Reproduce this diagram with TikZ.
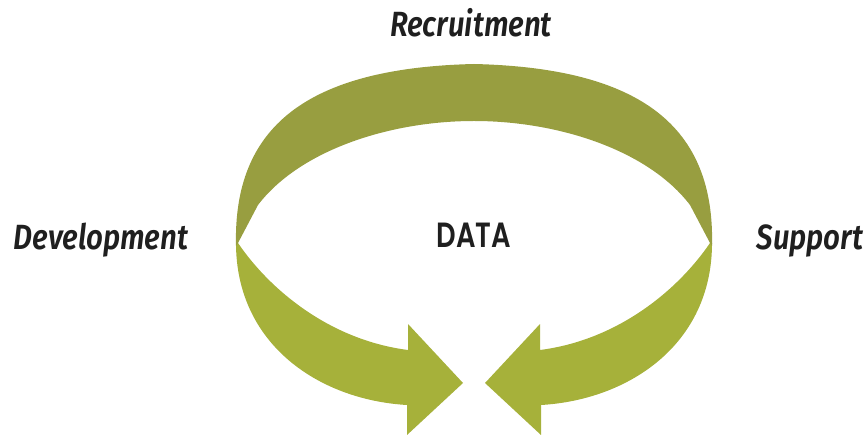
\documentclass[tikz,border=0pt]{standalone}
\usepackage{fontspec}
\usepackage{xcolor}
\usepackage{tikz}
\usetikzlibrary{positioning}

\newfontfamily\labelfont[FakeStretch=0.84]{Fira Sans SemiBold Italic}
\newfontfamily\datafont[FakeStretch=0.78]{Poppins SemiBold}

\definecolor{archgreen}{RGB}{152,158,64}
\definecolor{arrowgreen}{RGB}{166,177,58}

\begin{document}
\begin{tikzpicture}[
  x=1pt, y=-1pt,
  stage/.style={inner sep=0pt, anchor=base, font=\labelfont\fontsize{35}{40}\selectfont, text=black!88},
  centre/.style={inner sep=0pt, anchor=base, font=\datafont\fontsize{35}{40}\selectfont, text=black!88},
  arch/.style={fill=archgreen, draw=none},
  curl/.style={fill=arrowgreen, draw=none}
]
  \useasboundingbox (0,0) rectangle (866,435);

  % lower arrows
  \fill[curl] (236,243) .. controls (236,345) and (320,400) .. (407,405)
    -- (407,435) -- (463,383) -- (408,324) -- (408,350)
    .. controls (330,340) and (270,290) .. (238,243) -- cycle;
  \fill[curl] (712,243) .. controls (712,345) and (628,400) .. (541,405)
    -- (541,435) -- (485,383) -- (540,324) -- (540,350)
    .. controls (618,340) and (678,290) .. (710,243) -- cycle;

  % upper arch
  \fill[arch] (236,246) .. controls (233,128) and (305,68) .. (474,64)
    .. controls (643,68) and (715,128) .. (712,246) -- (710,243)
    -- (690,205) .. controls (648,150) and (558,121) .. (474,121)
    .. controls (390,121) and (300,150) .. (258,205) -- (238,243) -- cycle;

  \node[stage] (recruit) at (471,37) {Recruitment};
  \node[stage] (develop) at (101,250) {Development};
  \node[stage] (support) at (810,250) {Support};
  \node[centre] (data) at (474,248) {DATA};
\end{tikzpicture}
\end{document}
